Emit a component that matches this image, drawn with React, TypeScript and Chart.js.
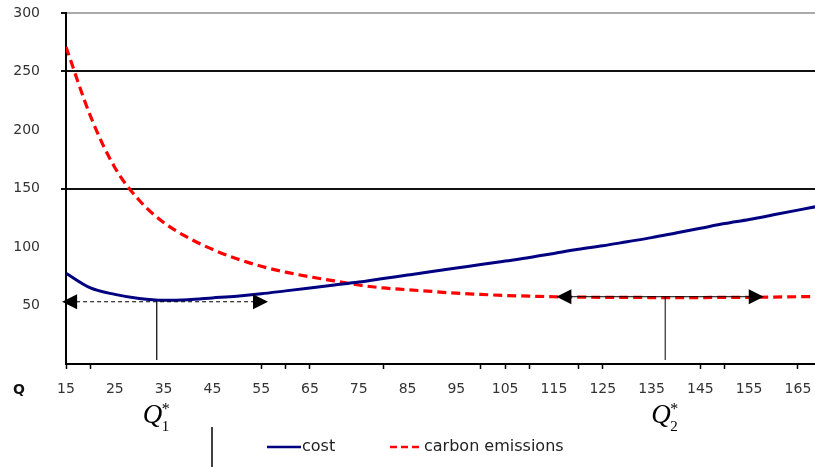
import { useEffect, useRef } from 'react';
import { Chart, registerables } from 'chart.js';

Chart.register(...registerables);

// ---- data ----
const qValues = [15, 20, 25, 30, 35, 40, 45, 50, 55, 60, 65, 70, 75, 80, 85, 90, 95, 100, 105, 110, 115, 120, 125, 130, 135, 140, 145, 150, 155, 160, 165, 170];
const costValues = [77.5, 65, 59.5, 56, 54.5, 55, 56.5, 58, 60, 62.5, 65, 67.5, 70, 73, 76, 79, 82, 85, 88, 91, 94.5, 98, 101, 104.5, 108, 112, 116, 120, 123.5, 127.5, 131.5, 135.5];
const emissionValues = [271, 212, 168, 140, 121, 108, 98, 90, 83.5, 78.5, 74.5, 71, 67.5, 65, 63.5, 62, 60.5, 59.5, 58.5, 58, 57.5, 57.2, 57, 57, 56.8, 56.8, 56.8, 57, 57, 57.2, 57.5, 57.8];

const xTickValues = [15, 20, 25, 30, 35, 40, 45, 50, 55, 60, 65, 70, 75, 80, 85, 90, 95, 100, 105, 110, 115, 120, 125, 130, 135, 140, 145, 150, 155, 160, 165];
const xLabelValues = [15, 25, 35, 45, 55, 65, 75, 85, 95, 105, 115, 125, 135, 145, 155, 165];
const xTickMarkValues = [15, 20, 55, 60, 65, 80, 100, 105, 110, 120, 125, 145, 150, 165];
const yTickValues = [0, 50, 100, 150, 200, 250, 300];
const yGridBlack = [150, 250];
const yGridGrey = [300];

const seriesNames = ['cost', 'carbon emissions'];
const axisName = 'Q';

// annotation values (data units)
const q1Star = 33.6;
const q1Level = 53.2;
const q1ArrowFrom = 14.2;
const q1ArrowTo = 56.4;
const q2Star = 137.8;
const q2Level = 57.5;
const q2ArrowFrom = 115.5;
const q2ArrowTo = 158;

const SANS = '"DejaVu Sans", sans-serif';
const SERIF = '"Liberation Serif", "Times New Roman", serif';

function drawHead(ctx: CanvasRenderingContext2D, tipX: number, y: number, dir: number) {
  ctx.beginPath();
  ctx.moveTo(tipX, y);
  ctx.lineTo(tipX - dir * 15, y - 7.5);
  ctx.lineTo(tipX - dir * 15, y + 7.5);
  ctx.closePath();
  ctx.fill();
}

function drawQ(ctx: CanvasRenderingContext2D, cx: number, sub: string) {
  ctx.fillStyle = '#000';
  ctx.textAlign = 'left';
  ctx.textBaseline = 'alphabetic';
  ctx.font = `italic 27px ${SERIF}`;
  ctx.fillText('Q', cx - 14, 423);
  ctx.font = `15px ${SERIF}`;
  ctx.fillText(sub, cx + 5, 431);
  ctx.font = `16px ${SERIF}`;
  ctx.fillText('*', cx + 5, 414);
}

const annotate = {
  id: 'annotate',
  afterDatasetsDraw(chart: any) {
    const { ctx } = chart;
    const x = chart.scales.x;
    const y = chart.scales.y;
    const base = y.getPixelForValue(0) - 4;
    ctx.save();
    ctx.strokeStyle = '#000';
    ctx.fillStyle = '#000';

    // arrow 1 (dashed)
    const y1 = y.getPixelForValue(q1Level);
    const a1 = x.getPixelForValue(q1ArrowFrom);
    const b1 = x.getPixelForValue(q1ArrowTo);
    ctx.lineWidth = 1.2;
    ctx.setLineDash([4, 3]);
    ctx.beginPath();
    ctx.moveTo(a1 + 14, y1);
    ctx.lineTo(b1 - 14, y1);
    ctx.stroke();
    ctx.setLineDash([]);
    drawHead(ctx, a1, y1, -1);
    drawHead(ctx, b1, y1, 1);
    const s1 = x.getPixelForValue(q1Star);
    ctx.beginPath();
    ctx.moveTo(s1, y1);
    ctx.lineTo(s1, base);
    ctx.stroke();

    // arrow 2
    const y2 = y.getPixelForValue(q2Level);
    const a2 = x.getPixelForValue(q2ArrowFrom);
    const b2 = x.getPixelForValue(q2ArrowTo);
    ctx.lineWidth = 1;
    ctx.beginPath();
    ctx.moveTo(a2 + 14, y2);
    ctx.lineTo(b2 - 14, y2);
    ctx.stroke();
    drawHead(ctx, a2, y2, -1);
    drawHead(ctx, b2, y2, 1);
    const s2 = x.getPixelForValue(q2Star);
    ctx.beginPath();
    ctx.moveTo(s2, y2);
    ctx.lineTo(s2, base);
    ctx.stroke();
    ctx.restore();
  },
  afterDraw(chart: any) {
    const { ctx } = chart;
    const x = chart.scales.x;
    ctx.save();
    // axis name
    ctx.fillStyle = '#111';
    ctx.font = `bold 14px ${SANS}`;
    ctx.textAlign = 'center';
    ctx.textBaseline = 'middle';
    ctx.fillText(axisName, 19, 390);

    drawQ(ctx, x.getPixelForValue(q1Star), '1');
    drawQ(ctx, x.getPixelForValue(q2Star), '2');

    // stray vertical line
    ctx.strokeStyle = '#000';
    ctx.lineWidth = 1.5;
    ctx.beginPath();
    ctx.moveTo(212, 427);
    ctx.lineTo(212, 467);
    ctx.stroke();

    // legend
    ctx.lineWidth = 2.5;
    ctx.strokeStyle = '#000080';
    ctx.beginPath();
    ctx.moveTo(267, 447);
    ctx.lineTo(301, 447);
    ctx.stroke();
    ctx.strokeStyle = '#ff0000';
    ctx.setLineDash([7, 4]);
    ctx.beginPath();
    ctx.moveTo(390, 447);
    ctx.lineTo(423, 447);
    ctx.stroke();
    ctx.setLineDash([]);
    ctx.fillStyle = '#222';
    ctx.font = `16px ${SANS}`;
    ctx.textAlign = 'left';
    ctx.textBaseline = 'middle';
    ctx.fillText(seriesNames[0], 302, 447);
    ctx.fillText(seriesNames[1], 424, 447);
    ctx.restore();
  },
};

export default function App() {
  const ref = useRef<HTMLCanvasElement>(null);
  useEffect(() => {
    if (!ref.current) return;
    const chart = new Chart(ref.current, {
      type: 'line',
      data: {
        datasets: [
          {
            label: seriesNames[0],
            data: qValues.map((q, i) => ({ x: q, y: costValues[i] })),
            borderColor: '#000080',
            borderWidth: 3,
            pointRadius: 0,
            cubicInterpolationMode: 'monotone',
          },
          {
            label: seriesNames[1],
            data: qValues.map((q, i) => ({ x: q, y: emissionValues[i] })),
            borderColor: '#ff0000',
            borderWidth: 3.2,
            borderDash: [9, 5],
            pointRadius: 0,
            cubicInterpolationMode: 'monotone',
          },
        ],
      },
      options: {
        animation: false,
        responsive: false,
        devicePixelRatio: 1,
        layout: { padding: { top: 13, left: 0, right: 0, bottom: 0 } },
        plugins: { legend: { display: false }, tooltip: { enabled: false } },
        scales: {
          x: {
            type: 'linear',
            min: 15,
            max: 168.5,
            afterBuildTicks: (scale: any) => {
              scale.ticks = xTickValues.map((v) => ({ value: v }));
            },
            afterFit: (scale: any) => {
              scale.height = 103;
              scale.paddingLeft = 0;
              scale.paddingRight = 0;
            },
            ticks: {
              autoSkip: false,
              maxRotation: 0,
              padding: 12,
              color: '#333',
              font: { family: SANS, size: 14 },
              callback: (v: any) => (xLabelValues.includes(Number(v)) ? String(v) : ''),
            },
            grid: {
              drawOnChartArea: false,
              drawTicks: true,
              tickLength: 5,
              tickWidth: 1.5,
              tickColor: (c: any) => (c.tick && xTickMarkValues.includes(c.tick.value) ? '#000' : 'rgba(0,0,0,0)'),
            },
            border: { display: true, color: '#000', width: 2 },
          },
          y: {
            min: 0,
            max: 300,
            afterBuildTicks: (scale: any) => {
              scale.ticks = yTickValues.map((v) => ({ value: v }));
            },
            afterFit: (scale: any) => {
              scale.width = 66;
              scale.paddingTop = 0;
              scale.paddingBottom = 0;
            },
            ticks: {
              padding: 21,
              color: '#333',
              font: { family: SANS, size: 14 },
              callback: (v: any) => (Number(v) === 0 ? '' : String(v)),
            },
            grid: {
              drawTicks: true,
              tickLength: 5,
              lineWidth: 2,
              color: (c: any) =>
                c.tick && yGridBlack.includes(c.tick.value)
                  ? '#111'
                  : c.tick && yGridGrey.includes(c.tick.value)
                  ? '#aaa'
                  : 'rgba(0,0,0,0)',
              tickColor: (c: any) =>
                c.tick && (yGridBlack.includes(c.tick.value) || yGridGrey.includes(c.tick.value)) ? '#111' : 'rgba(0,0,0,0)',
            },
            border: { display: true, color: '#000', width: 2 },
          },
        },
      } as any,
      plugins: [annotate],
    });
    return () => chart.destroy();
  }, []);
  return (
    <div style={{ position: 'fixed', left: 0, top: 0, width: 815, height: 467, background: '#fff' }}>
      <canvas ref={ref} width={815} height={467} style={{ display: 'block' }} />
    </div>
  );
}
